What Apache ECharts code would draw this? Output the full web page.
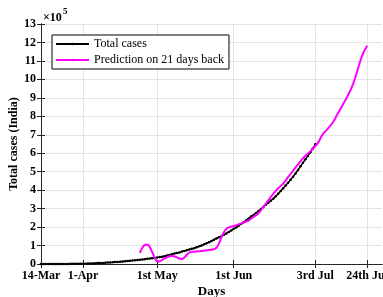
<!DOCTYPE html>
<html>
<head>
<meta charset="utf-8">
<title>Total cases (India)</title>
<script src="https://cdn.jsdelivr.net/npm/echarts@6/dist/echarts.min.js"></script>
<style>
  html, body { margin: 0; padding: 0; background: #fff; }
  #chart_container { width: 383px; height: 297px; }
</style>
</head>
<body>
<div id="chart_container"></div>
<script>
  // x 轴：从 14-Mar 起的天数
  var tickDays = [0, 17, 47, 78, 111, 132]
  var tickLabels = ['14-Mar', '1-Apr', '1st May', '1st Jun', '3rd Jul', '24th Jul']

  // 累计病例 (14-Mar ... 3-Jul，每天一个点)
  var totalCases = [
    102, 112, 126, 146, 171, 198, 256, 334, 403, 499, 536, 657, 727, 887, 987, 1024, 1251, 1397,
    1998, 2543, 2567, 3082, 3588, 4778, 5311, 5916, 6725, 7598, 8446, 9205, 10453, 11487, 12322,
    13430, 14352, 15722, 17615, 18539, 20080, 21370, 23077, 24530, 26283, 27890, 29451, 31324, 33062, 34863,
    37257, 39699, 42505, 46437, 49400, 52987, 56351, 59695, 62808, 67161, 70768, 74292, 78055, 81997,
    85784, 90648, 95698, 100328, 106475, 112028, 118226, 124794, 131423, 138536, 144950, 150793,
    158086, 165386, 173491, 181827, 190609,
    198370, 207191, 216824, 226713, 236184, 246622, 257486, 265928, 276146, 286579, 297535, 308993,
    320922, 332424, 343091, 354065, 366946, 380532, 395048, 410461, 425282, 440215, 456183, 473105,
    490401, 508953, 528859, 548318, 566840, 585481,
    604641, 625544, 648315
  ]

  // 预测 (21 天前)
  var predDays = [40, 41, 42, 43, 44, 45, 46, 47, 48, 49, 50, 51, 52, 53, 54, 55, 56, 57, 58, 59, 60, 61,
    62, 64, 66, 68, 70, 71, 72, 73, 74, 75, 76, 77, 78, 80, 82, 84, 86, 88, 90, 92, 94, 96, 98,
    100, 102, 104, 106, 108, 110, 112, 114, 116, 118, 120, 122, 124, 126, 128, 130, 132]
  var predCases = [60000, 88000, 103000, 105000, 92000, 65000, 35000, 15000, 14000, 22000, 30000, 36000,
    42000, 44000, 41000, 36000, 30000, 27000, 35000, 50000, 61000, 66000, 67000, 69000, 72000, 76000,
    80000, 88000, 110000, 145000, 172000, 190000, 198000, 203000, 206000, 215000, 225000, 235000,
    255000, 275000, 310000, 345000, 380000, 410000, 435000, 470000, 505000, 540000, 572000, 598000,
    625000, 655000, 702000, 732000, 765000, 812000, 860000, 908000, 965000, 1045000, 1130000, 1182000]

  var axisColor = '#262626'
  var font = 'Liberation Serif'

  var totalData = totalCases.map(function (v, i) { return [i, v] })
  var predData = predDays.map(function (d, i) { return [d, predCases[i]] })

  var chart = echarts.init(document.getElementById('chart_container'))
  chart.setOption({
    animation: false,
    grid: { left: 41, right: 1, top: 24, bottom: 33, containLabel: false, outerBoundsMode: 'none' },
    legend: {
      orient: 'vertical',
      left: 52,
      top: 35,
      padding: [2, 5, 2, 3],
      itemGap: 2,
      itemWidth: 33,
      itemHeight: 3,
      borderColor: '#000',
      borderWidth: 1,
      backgroundColor: '#fff',
      textStyle: { fontFamily: font, fontSize: 12, color: '#000', lineHeight: 14 },
      data: ['Total cases', 'Prediction on 21 days back']
    },
    graphic: [
      { type: 'text', left: 43, top: 12, style: { text: '×10', fontFamily: font, fontSize: 12, fontWeight: 'bold', fill: '#000' } },
      { type: 'text', left: 63, top: 7, style: { text: '5', fontFamily: font, fontSize: 9, fontWeight: 'bold', fill: '#000' } }
    ],
    xAxis: [{
      type: 'value',
      min: 0,
      max: 138,
      name: 'Days',
      nameLocation: 'middle',
      nameGap: 21,
      nameMoveOverlap: false,
      nameTextStyle: { fontFamily: font, fontSize: 13, fontWeight: 'bold', color: '#000' },
      axisLine: { lineStyle: { color: axisColor, width: 1 } },
      axisTick: { inside: true, length: 4, customValues: tickDays, lineStyle: { color: axisColor } },
      axisLabel: {
        customValues: tickDays,
        margin: 6,
        fontFamily: font, fontSize: 12, fontWeight: 'bold', color: '#000',
        formatter: function (v) { return tickLabels[tickDays.indexOf(v)] }
      },
      splitLine: { show: true, lineStyle: { color: '#e3e3e3', width: 1 } }
    }, {
      type: 'value',
      position: 'top',
      min: 0,
      max: 138,
      axisLine: { lineStyle: { color: axisColor, width: 1 } },
      axisTick: { inside: true, length: 4, customValues: tickDays, lineStyle: { color: axisColor } },
      axisLabel: { show: false },
      splitLine: { show: false }
    }],
    yAxis: [{
      type: 'value',
      min: 0,
      max: 1300000,
      interval: 100000,
      name: 'Total cases (India)',
      nameLocation: 'middle',
      nameGap: 21,
      nameMoveOverlap: false,
      nameTextStyle: { fontFamily: font, fontSize: 12, fontWeight: 'bold', color: '#000' },
      axisLine: { show: true, lineStyle: { color: axisColor, width: 1 } },
      axisTick: { show: true, inside: true, length: 4, lineStyle: { color: axisColor } },
      axisLabel: {
        margin: 5,
        fontFamily: font, fontSize: 12, fontWeight: 'bold', color: '#000',
        formatter: function (v) { return v / 100000 }
      },
      splitLine: { show: true, lineStyle: { color: '#e3e3e3', width: 1 } }
    }, {
      type: 'value',
      position: 'right',
      min: 0,
      max: 1300000,
      interval: 100000,
      axisLine: { show: true, lineStyle: { color: axisColor, width: 1 } },
      axisTick: { show: true, inside: true, length: 4, lineStyle: { color: axisColor } },
      axisLabel: { show: false },
      splitLine: { show: false }
    }],
    series: [{
      name: 'Total cases',
      type: 'line',
      data: totalData,
      symbol: 'circle',
      symbolSize: 2.5,
      showSymbol: true,
      itemStyle: { color: '#000' },
      lineStyle: { color: '#000', width: 1.5 },
      z: 3
    }, {
      name: 'Prediction on 21 days back',
      type: 'line',
      data: predData,
      smooth: 0.4,
      symbol: 'circle',
      symbolSize: 3,
      showSymbol: false,
      itemStyle: { color: '#ff00ff' },
      lineStyle: { color: '#ff00ff', width: 2 },
      z: 4
    }]
  })
</script>
</body>
</html>
